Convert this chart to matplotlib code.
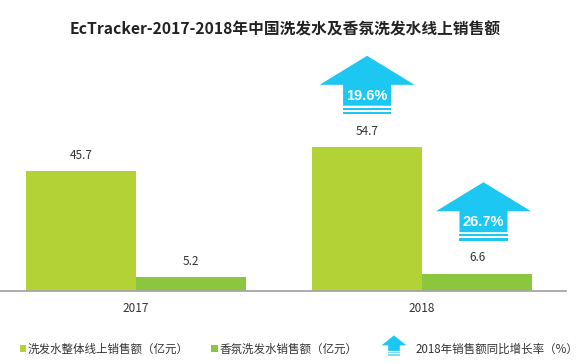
import matplotlib
matplotlib.use("Agg")
import matplotlib.pyplot as plt
import matplotlib.transforms as mtransforms
from matplotlib.patches import Polygon, Rectangle

# data
years = ["2017", "2018"]
total_sales = [45.7, 54.7]        # 洗发水整体线上销售额 (亿元)
fragrance_sales = [5.2, 6.6]      # 香氛洗发水销售额 (亿元)
growth_labels = ["19.6%", "26.7%"]
legend_labels = ["洗发水整体线上销售额（亿元）", "香氛洗发水销售额（亿元）",
                 "2018年销售额同比增长率（%）"]
title = "EcTracker-2017-2018年中国洗发水及香氛洗发水线上销售额"

LIME = "#b2d235"
GREEN = "#8cc63f"
BLUE = "#1cc7f1"
TEXT = "#333333"

plt.rcParams['font.family'] = ['Noto Sans CJK SC', 'DejaVu Sans']


def draw_arrow(target, cx, y0, head_hw, shaft_hw, stripe, gap, body, head,
               transform, color=BLUE, stripe_color=None):
    """Up arrow with two thin stripes under the shaft."""
    stripe_color = stripe_color or color
    stripes = [
        Rectangle((cx - shaft_hw, y0), 2 * shaft_hw, stripe),
        Rectangle((cx - shaft_hw, y0 + stripe + gap), 2 * shaft_hw, stripe),
    ]
    yb = y0 + 2 * (stripe + gap)
    yh = yb + body
    shape = Polygon([(cx - shaft_hw, yb), (cx + shaft_hw, yb),
                     (cx + shaft_hw, yh), (cx + head_hw, yh),
                     (cx, yh + head), (cx - head_hw, yh),
                     (cx - shaft_hw, yh)], closed=True)
    for p, c in [(stripes[0], stripe_color), (stripes[1], stripe_color),
                 (shape, color)]:
        p.set_facecolor(c)
        p.set_edgecolor("none")
        p.set_transform(transform)
        p.set_clip_on(False)
        target.add_artist(p)
    return yb, yh


fig = plt.figure(figsize=(5.86, 3.64), dpi=100)
ax = fig.add_axes([0, 73 / 364, 566 / 586, 241 / 364])

x = range(len(years))
w = 0.385
ax.bar([i - w / 2 for i in x], total_sales, w, color=LIME)
ax.bar([i + w / 2 for i in x], fragrance_sales, w, color=GREEN)

for i in x:
    ax.text(i - w / 2, total_sales[i] + 3.5, f"{total_sales[i]}",
            ha="center", va="bottom", fontsize=8.5, color=TEXT)
    ax.text(i + w / 2, fragrance_sales[i] + 3.5, f"{fragrance_sales[i]}",
            ha="center", va="bottom", fontsize=8.5, color=TEXT)

# growth arrows over the 2018 bars
arrow_x = [1 - w / 2, 1 + w / 2 + 0.022]
arrow_v = [total_sales[1], fragrance_sales[1]]
for cx, v, lab in zip(arrow_x, arrow_v, growth_labels):
    yb, yh = draw_arrow(ax, cx, v + 12.6, 0.166, 0.084, 0.85, 0.75, 7.95,
                        11.05, ax.transData)
    ax.text(cx, yb + 3.7, lab, ha="center", va="center", color="white",
            fontsize=10.5, fontweight="bold", family="Liberation Sans")

ax.set_xlim(-0.476, 1.503)
ax.set_ylim(0, 91.7)
ax.set_xticks(list(x))
ax.set_xticklabels(years, fontsize=8.5, color=TEXT)
ax.tick_params(axis="x", length=0, pad=8)
ax.set_yticks([])
for s in ["top", "right", "left"]:
    ax.spines[s].set_visible(False)
ax.spines["bottom"].set_color("#a6a6a6")
ax.spines["bottom"].set_linewidth(1.3)

fig.text(285 / 586, 1 - 29 / 364, title, ha="center", va="center",
         fontsize=11.3, fontweight="bold", color="#222222")

# legend in figure pixels (y measured from the top)
px = mtransforms.Affine2D().scale(1 / 586, -1 / 364).translate(0, 1) \
    + fig.transFigure
for sx, color in [(19.5, LIME), (211, GREEN)]:
    r = Rectangle((sx, 344.5), 6.5, 7, facecolor=color, edgecolor="none",
                  transform=px)
    fig.add_artist(r)
draw_arrow(fig, 394, 355.5, 12.5, 5.8, -1.3, -1.0, -5.5, -10, px,
           stripe_color="#7fdcf5")
for tx, lab in zip([28, 220, 416], legend_labels):
    fig.text(tx / 586, 1 - 349 / 364, lab, ha="left", va="center",
             fontsize=8.3, color=TEXT)

fig.savefig("out.png", dpi=100)
